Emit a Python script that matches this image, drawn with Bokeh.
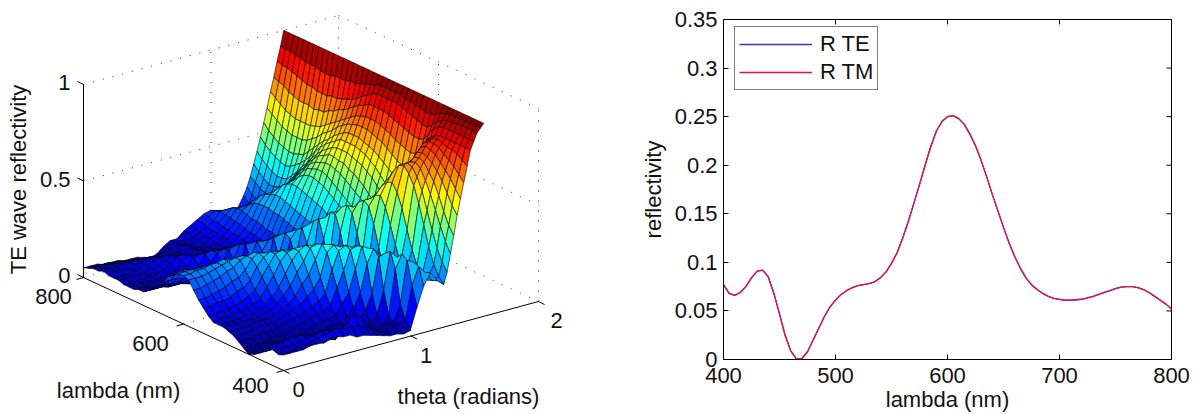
import math
from bokeh.embed import file_html
from bokeh.resources import INLINE
from bokeh.plotting import figure
from bokeh.layouts import row
from bokeh.models import Range1d, FixedTicker, Legend, LegendItem
from bokeh.core.properties import value

lam = [400 + 10 * j for j in range(41)]
lam_fine = [400 + 5 * j for j in range(81)]
R_TE = [.077,.068,.066,.069,.075,.084,.091,.092,.085,.068,.047,.025,.009,.001,.001,.008,.02,.032,.044,.054,.061,.067,.071,.074,.076,.077,.078,.08,.084,.09,.099,.11,.125,.142,.161,.18,.2,.219,.235,.245,.25,.251,.248,.242,.232,.22,.205,.188,.17,.153,.136,.12,.106,.094,.084,.077,.072,.068,.065,.063,.062,.061,.061,.0615,.062,.0635,.065,.067,.069,.071,.073,.0745,.075,.075,.074,.072,.069,.065,.061,.057,.052]
R_TM = list(R_TE)
y_ticks = [0,.05,.1,.15,.2,.25,.3,.35]
y_tick_labels = ["0","0.05","0.1","0.15","0.2","0.25","0.3","0.35"]
x_ticks = [400,500,600,700,800]

# angle of each row, in units of pi/60
theta_steps = list(range(25)) + [24.5, 25, 25.5, 26, 26.5, 27, 27.5, 28, 28.5, 29, 29.5, 30]
# Reflectivity x100, one row per angle, columns are lam
surf = [
[8,7,8,9,9,5,1,0,2,4,6,7,8,8,8,10,13,16,20,24,25,25,23,21,17,14,11,9,7,7,6,6,6,7,7,7,8,7,7,6,5],
[8,7,8,9,8,5,1,0,2,4,6,7,8,8,9,10,13,16,20,24,25,25,24,21,17,14,11,9,7,7,6,6,6,7,7,8,8,7,7,6,5],
[8,7,8,9,8,4,1,0,2,4,6,7,8,8,9,11,14,17,21,24,26,25,24,21,17,13,11,9,7,6,6,6,6,7,7,8,8,8,7,6,5],
[8,8,8,10,8,4,1,0,2,5,6,7,8,8,9,11,14,18,22,25,26,25,23,20,16,13,10,8,7,6,6,6,6,7,8,8,9,8,7,6,4],
[9,8,9,10,8,4,1,1,3,5,7,8,8,9,10,12,15,19,23,26,27,25,22,19,15,12,10,8,7,6,6,6,7,7,8,9,9,8,7,5,4],
[9,9,10,10,7,3,0,1,3,5,7,8,8,9,11,13,17,21,25,27,27,25,22,18,14,11,9,8,7,6,6,6,7,8,9,9,9,8,6,5,4],
[9,10,10,9,6,2,0,2,4,6,7,8,9,10,12,15,18,22,26,28,28,25,21,17,13,10,8,7,6,6,6,7,8,9,10,10,9,7,6,4,3],
[10,11,11,9,4,1,1,3,5,7,8,9,10,12,14,17,21,25,29,29,27,24,20,16,12,9,7,6,5,6,7,8,10,11,11,10,9,7,5,4,3],
[10,12,11,7,2,1,2,4,6,8,10,11,13,15,19,23,27,30,30,29,26,22,17,13,10,7,6,5,6,8,10,12,13,12,11,9,7,5,4,3,3],
[9,12,10,5,1,1,3,5,7,9,11,13,16,19,24,28,31,32,31,28,24,20,15,11,8,6,5,6,8,11,14,14,13,11,9,7,5,4,3,3,2],
[9,11,8,3,2,2,4,6,8,10,13,16,20,25,30,33,33,31,28,24,20,15,11,8,6,5,6,9,13,16,15,13,11,9,7,5,4,3,2,2,1],
[7,11,12,7,3,3,5,7,9,12,16,21,26,31,34,34,32,29,25,21,16,12,8,6,5,6,9,13,17,17,15,13,11,9,7,6,5,4,3,3,2],
[7,11,15,11,6,4,5,7,10,14,19,25,31,35,35,33,30,26,22,17,13,9,7,6,6,9,15,19,18,16,14,12,10,8,7,6,5,5,5,5,5],
[6,9,13,10,6,4,5,8,12,17,24,32,37,37,35,31,27,22,17,12,9,7,7,11,17,23,22,20,18,16,14,12,11,10,9,8,8,8,7,7,7],
[5,7,8,6,4,5,8,13,20,28,36,39,38,36,33,29,24,19,14,10,8,9,14,21,25,23,21,19,17,15,13,12,10,9,8,8,7,7,7,7,7],
[4,5,6,5,4,6,11,18,28,37,39,38,36,33,30,26,21,16,11,9,13,20,28,26,24,22,20,18,16,14,12,11,10,9,8,8,8,9,9,10,10],
[3,4,4,3,5,10,18,29,38,39,37,35,32,28,24,19,14,10,13,20,29,31,29,27,24,22,20,18,16,14,12,11,10,9,9,9,10,10,11,11,12],
[3,6,6,4,8,18,32,40,39,37,34,31,27,22,17,12,12,19,28,35,33,31,28,26,23,21,18,16,14,12,10,10,10,10,11,11,12,12,13,14,14],
[2,6,6,8,20,36,39,38,35,31,27,23,18,13,13,21,32,41,39,36,33,30,27,24,21,18,16,14,12,12,12,12,12,13,13,14,14,15,15,16,16],
[3,7,14,31,39,37,34,31,27,23,19,15,15,25,37,45,45,41,37,34,30,27,24,21,18,16,14,14,14,14,14,15,15,16,17,17,18,18,19,18,17],
[14,24,36,38,35,31,27,23,19,16,18,27,38,47,50,48,44,40,36,32,28,25,21,18,16,16,16,17,17,18,18,19,20,20,21,22,22,21,19,17,16],
[24,33,34,31,28,24,21,20,24,33,44,52,54,52,48,44,40,36,32,28,24,20,19,20,21,22,23,24,25,26,26,27,27,27,26,24,22,20,18,16,15],
[30,29,27,25,24,24,28,36,45,53,58,57,54,50,46,42,38,33,28,23,22,23,24,26,27,28,29,30,31,32,33,33,32,31,29,26,23,20,17,15,13],
[25,24,23,24,28,35,44,54,61,65,64,61,56,51,46,41,35,28,26,27,29,31,33,35,36,37,38,39,40,40,39,37,34,31,27,24,21,18,16,15,14],
[22,25,30,38,48,58,66,71,74,73,69,64,58,51,44,36,30,30,32,34,36,38,40,42,44,45,46,46,45,43,40,37,33,29,25,22,19,17,16,17,20],
[28,32,38,46,55,64,70,74,75,73,68,62,55,48,41,35,33,35,37,39,41,43,45,47,49,50,50,49,48,45,42,38,34,30,26,23,21,20,20,21,24],
[37,42,49,56,63,69,74,76,75,71,66,59,52,46,40,37,39,42,44,46,48,50,52,53,54,54,53,52,50,47,44,40,36,32,28,26,24,24,25,27,29],
[46,50,56,63,69,73,77,78,77,73,67,60,53,47,43,42,44,47,50,52,54,55,57,57,58,58,56,55,52,49,45,42,38,34,31,29,28,28,30,32,35],
[56,60,65,70,74,77,79,80,79,74,68,60,53,48,47,49,52,55,57,59,60,61,62,62,62,61,59,57,54,51,47,44,40,37,34,33,33,34,36,38,41],
[64,68,72,75,78,81,82,83,81,76,70,63,56,53,52,54,57,60,62,64,65,66,66,66,66,64,62,60,57,54,50,47,44,42,40,39,40,41,43,45,48],
[72,75,78,80,82,84,85,85,83,78,72,65,59,58,59,61,63,65,67,68,69,70,70,70,69,67,65,62,60,57,54,51,48,47,46,46,47,48,50,52,55],
[80,82,84,85,85,86,87,86,84,80,74,69,66,65,66,68,70,72,73,74,75,75,75,74,73,71,69,66,64,62,59,57,55,54,54,54,55,56,58,60,62],
[88,88,88,88,88,88,88,87,85,81,76,73,72,73,74,75,77,78,79,80,80,80,79,78,76,74,72,70,68,66,64,63,62,62,62,62,63,64,66,68,70],
[92,92,92,92,92,92,92,91,89,85,81,80,80,81,82,83,84,85,86,86,86,86,84,83,81,79,77,76,74,73,71,71,70,71,71,71,72,73,75,76,77],
[96,96,96,96,96,95,95,94,92,89,87,87,88,89,90,91,92,92,92,92,92,91,89,87,85,83,82,81,80,80,79,79,79,80,80,81,82,83,84,84,85],
[98,98,98,98,98,98,98,97,96,94,93,93,94,94,95,95,96,96,96,96,96,95,94,93,92,91,91,90,90,90,89,89,89,90,90,90,91,91,92,92,92],
[100]*41,
]
theta = [k * math.pi / 60 for k in theta_steps]

FONT = value("Liberation Sans")
FS = "22px"

def px(t, l, z=0.0):
    return 283 + 127.5 * t - 0.5 * (l - 400)

def py(t, l, z=0.0):
    return 370 - 34.5 * t - 0.2325 * (l - 400) - 193 * z

def jet(v):
    v = max(0.0, min(1.0, v))
    c = []
    for off in (0.75, 0.5, 0.25):
        c.append(int(255 * max(0.0, min(1.0, 1.5 - 4 * abs(v - off)))))
    return "#%02x%02x%02x" % tuple(c)

# ---------- left panel: projected surface ----------
L = figure(width=608, height=414, x_range=Range1d(0, 608), y_range=Range1d(414, 0),
           toolbar_location=None, output_backend="svg", min_border=0)
L.frame_align = False
L.axis.visible = False
L.grid.visible = False
L.outline_line_color = None

def seg(a, b, **kw):
    L.line([px(*a), px(*b)], [py(*a), py(*b)], **kw)

dots = dict(line_color="#333333", line_width=1, line_dash="1 9")
for z in (0.5, 1.0):
    seg((0, 800, z), (2, 800, z), **dots)
    seg((2, 800, z), (2, 400, z), **dots)
for t in (1, 2):
    seg((t, 800, 0), (t, 800, 1), **dots)
for l in (600, 400):
    seg((2, l, 0), (2, l, 1), **dots)
seg((0, 800, 0), (2, 800, 0), **dots)
seg((1, 800, 0), (1, 400, 0), **dots)
seg((0, 600, 0), (2, 600, 0), **dots)
seg((2, 800, 0), (2, 400, 0), **dots)

xs, ys, cols = [], [], []
for k in range(len(theta) - 2, -1, -1):
    for j in range(len(lam) - 2, -1, -1):
        corners = [(k, j), (k + 1, j), (k + 1, j + 1), (k, j + 1)]
        zs = [surf[a][b] / 100 for a, b in corners]
        xs.append([px(theta[a], lam[b]) for a, b in corners])
        ys.append([py(theta[a], lam[b], surf[a][b] / 100) for a, b in corners])
        cols.append(jet(sum(zs) / 4))
L.patches(xs, ys, fill_color=cols, line_color="black", line_width=0.6)

solid = dict(line_color="black", line_width=1)
seg((0, 800, 0), (0, 800, 1), **solid)
seg((0, 800, 0), (0, 400, 0), **solid)
seg((0, 400, 0), (2, 400, 0), **solid)
for z in (0, .5, 1):
    x0, y0 = px(0, 800), py(0, 800, z)
    L.line([x0, x0 - 6], [y0, y0 - 3], **solid)
for l in (800, 600, 400):
    x0, y0 = px(0, l), py(0, l)
    L.line([x0, x0 - 7], [y0, y0 + 2], **solid)
for t in (0, 1, 2):
    x0, y0 = px(t, 400), py(t, 400)
    L.line([x0, x0 + 6], [y0, y0 + 3], **solid)

def label(x, y, s, align="center", angle=0.0):
    L.text([x], [y], text=[s], text_font=FONT, text_font_size=FS, text_color="#111111",
           text_align=align, text_baseline="middle", angle=angle)

for z, s in zip((0, .5, 1), ("0", "0.5", "1")):
    label(px(0, 800) - 13, py(0, 800, z) - 2, s, "right")
for l, dx, dy in ((800, -30, 19), (600, -33, 19), (400, -33, 15)):
    label(px(0, l) + dx, py(0, l) + dy, str(l))
for t, dx, dy in ((0, 15, 19), (1, 15, 19), (2, 18, 19)):
    label(px(t, 400) + dx, py(t, 400) + dy, str(t))
label(118, 390, "lambda (nm)")
label(468, 396, "theta (radians)")
label(18, 179, "TE wave reflectivity", angle=math.pi / 2)

# ---------- right panel ----------
R = figure(width=585, height=414, x_range=Range1d(400, 800), y_range=Range1d(0, 0.35),
           toolbar_location=None, output_backend="svg",
           min_border_left=115, min_border_right=22, min_border_top=19, min_border_bottom=55,
           x_axis_label="lambda (nm)", y_axis_label="reflectivity")
R.frame_align = False
R.grid.visible = False
R.outline_line_color = "black"
R.xaxis.ticker = FixedTicker(ticks=x_ticks)
R.yaxis.ticker = FixedTicker(ticks=y_ticks)
R.yaxis.major_label_overrides = dict(zip(y_ticks, y_tick_labels))
for ax in (R.xaxis[0], R.yaxis[0]):
    ax.major_tick_in = 5
    ax.major_tick_out = 0
    ax.minor_tick_line_color = None
    ax.major_label_text_font = "Liberation Sans"
    ax.major_label_text_font_size = FS
    ax.major_label_text_color = "#111111"
    ax.axis_label_text_font = "Liberation Sans"
    ax.axis_label_text_font_size = FS
    ax.axis_label_text_font_style = "normal"
    ax.axis_label_text_color = "#111111"
    ax.axis_line_color = "black"
    ax.major_tick_line_color = "black"
R.xaxis.major_label_standoff = 8
R.xaxis.axis_label_standoff = 1
R.yaxis.major_label_standoff = 6
R.yaxis.axis_label_standoff = 6
# ticks of the top and right edges of the box, in data units
R.segment(x_ticks, [.35] * 5, x_ticks, [.35 - .35 * 5 / 340] * 5, line_color="black", line_width=1)
R.segment([800] * 8, y_ticks, [800 - 400 * 5 / 448] * 8, y_ticks, line_color="black", line_width=1)
te = R.line(lam_fine, R_TE, line_color="#3030ff", line_width=1.3)
tm = R.line(lam_fine, R_TM, line_color="#f01038", line_width=1.3)
leg = Legend(items=[LegendItem(label="R TE", renderers=[te]), LegendItem(label="R TM", renderers=[tm])],
             location=(11, 269), margin=0, padding=4, spacing=2, label_height=20, glyph_height=20,
             glyph_width=73, label_standoff=8, border_line_color="black", border_line_width=1,
             label_text_font="Liberation Sans", label_text_font_size=FS, label_text_color="#111111",
             background_fill_alpha=1)
R.add_layout(leg, "center")

open("out.html", "w").write(file_html(row(L, R, spacing=0), INLINE))
